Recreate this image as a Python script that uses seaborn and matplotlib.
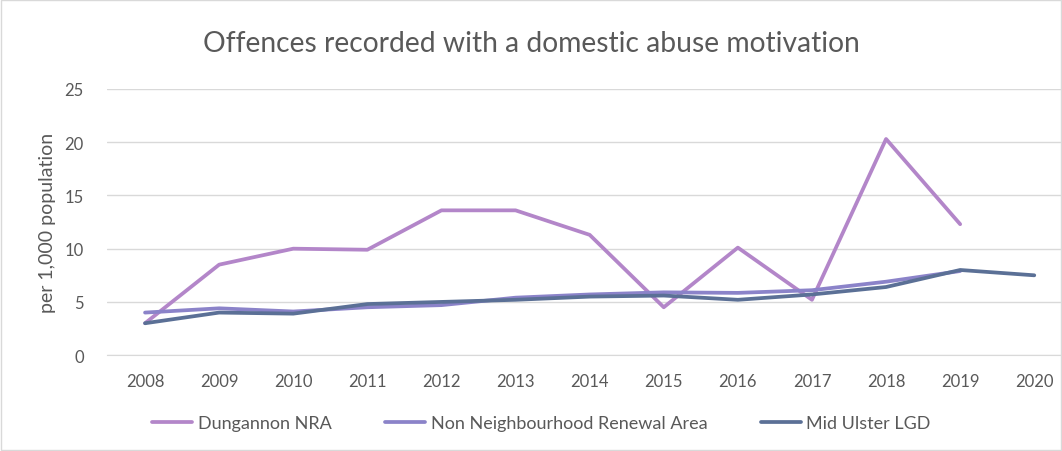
import matplotlib
matplotlib.use('Agg')
import matplotlib.pyplot as plt
from matplotlib.lines import Line2D
import seaborn as sns
import pandas as pd
import numpy as np

sns.set_style("white")
plt.rcParams['font.family'] = ['Lato', 'DejaVu Sans']

years = list(range(2008, 2021))
dungannon = [3.0, 8.5, 10.0, 9.9, 13.6, 13.6, 11.3, 4.5, 10.1, 5.2, 20.3, 12.3, np.nan]
non_nra = [4.0, 4.4, 4.1, 4.5, 4.7, 5.4, 5.7, 5.9, 5.85, 6.1, 6.9, 7.9, np.nan]
mid_ulster = [3.0, 4.0, 3.9, 4.8, 5.0, 5.2, 5.5, 5.6, 5.2, 5.7, 6.4, 8.0, 7.5]

series_names = ['Dungannon NRA', 'Non Neighbourhood Renewal Area', 'Mid Ulster LGD']
colors = {'Dungannon NRA': '#b386c9', 'Non Neighbourhood Renewal Area': '#8b83c9',
          'Mid Ulster LGD': '#5b7096'}

df = pd.DataFrame({
    'Year': years * 3,
    'Value': dungannon + non_nra + mid_ulster,
    'Series': [s for s in series_names for _ in years],
})

fig = plt.figure(figsize=(10.62, 4.52), dpi=100)
ax = fig.add_axes([0.101, 0.212, 0.898, 0.589])
for name in series_names:
    sub = df[df['Series'] == name].dropna()
    sns.lineplot(data=sub, x='Year', y='Value', color=colors[name], linewidth=2.7,
                 ax=ax, legend=False, solid_capstyle='round')

ax.set_xlim(2007.49, 2020.36)
ax.set_ylim(0, 25)
ax.set_xticks(years)
ax.set_yticks([0, 5, 10, 15, 20, 25])
ax.yaxis.grid(True, color='#d9d9d9', linewidth=1)
ax.set_axisbelow(True)
for s in ['top', 'right', 'left']:
    ax.spines[s].set_visible(False)
ax.spines['bottom'].set_color('#d9d9d9')
ax.tick_params(axis='both', length=0, labelsize=12, labelcolor='#595959')
ax.tick_params(axis='x', pad=13)
ax.tick_params(axis='y', pad=17)
ax.set_xlabel('')
ax.set_ylabel('per 1,000 population', fontsize=14, color='#595959', labelpad=6)

fig.text(0.5, 0.902, 'Offences recorded with a domestic abuse motivation',
         ha='center', va='center', fontsize=20.3, color='#595959')

handles = [Line2D([], [], color=colors[n], linewidth=2.7, solid_capstyle='round') for n in series_names]
fig.legend(handles, series_names, loc='center', bbox_to_anchor=(0.51, 0.062), ncol=3,
           frameon=False, fontsize=13, labelcolor='#595959', handlelength=2.2,
           handletextpad=0.3, columnspacing=3.0)

fig.patches.append(plt.Rectangle((0.001, 0.002), 0.998, 0.996, transform=fig.transFigure,
                                 fill=False, edgecolor='#d9d9d9', linewidth=1))

plt.savefig('out.png', dpi=100)
plt.close()
